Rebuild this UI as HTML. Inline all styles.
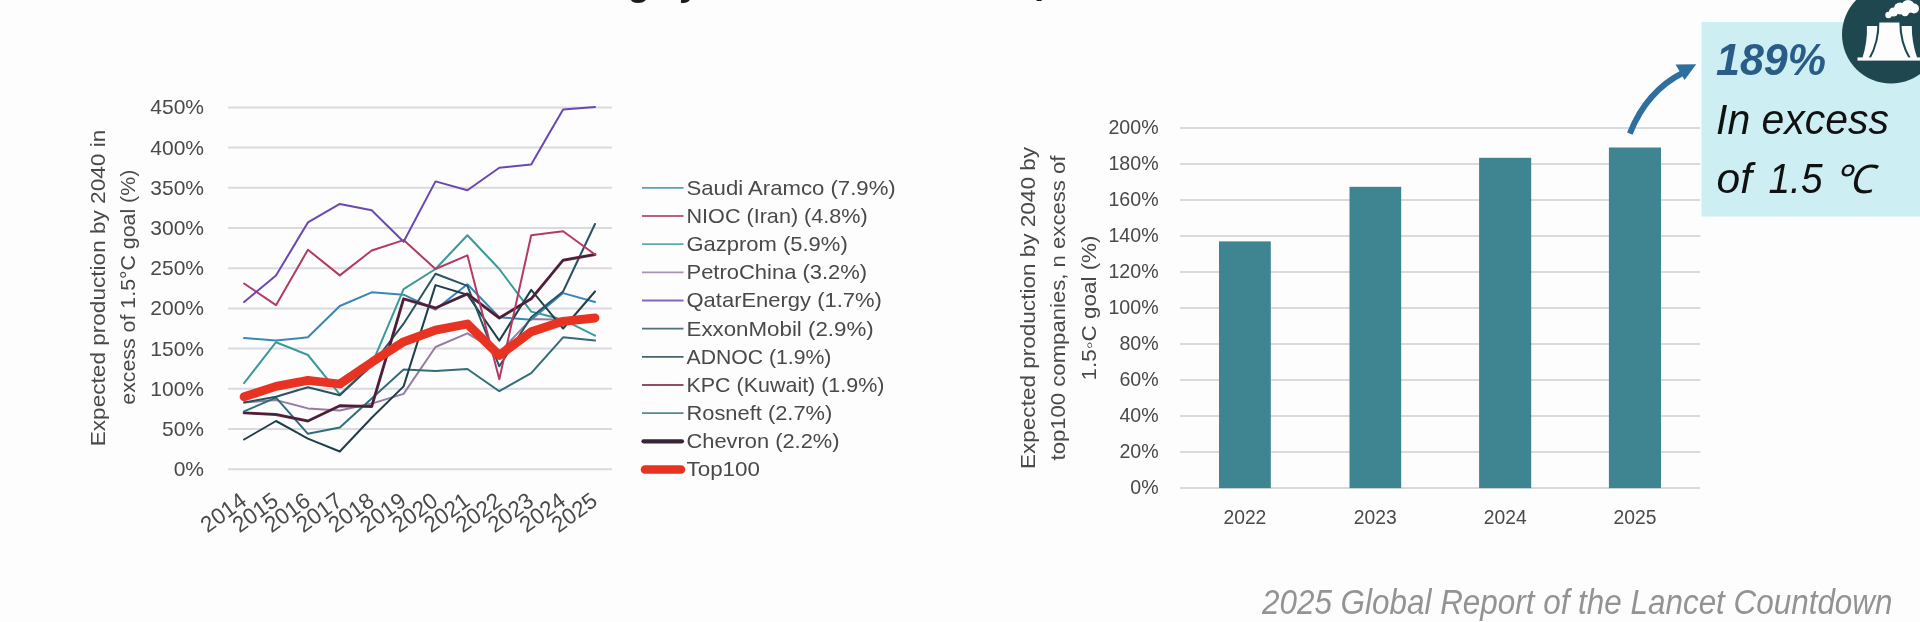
<!DOCTYPE html>
<html lang="en"><head><meta charset="utf-8"><title>Lancet Countdown 2025 – fossil fuel production</title>
<style>html,body{margin:0;padding:0;background:#fdfdfd;overflow:hidden}svg{display:block}.soft{filter:blur(0.45px)}text{font-family:"Liberation Sans", sans-serif}</style>
</head><body>
<svg width="1920" height="622" viewBox="0 0 1920 622">
<rect width="1920" height="622" fill="#fdfdfd"/>
<g class="soft">
<text y="-5.1" font-size="37" font-weight="bold" fill="#1c1c1c"><tspan x="650" text-anchor="end">Fossil fuel extraction is increasing</tspan><tspan x="656.5" text-anchor="start">by far more at</tspan><tspan x="999" dy="-2.2" text-anchor="start">top 100 firms</tspan></text>
<g id="left-chart">
<line x1="228" x2="612" y1="469.2" y2="469.2" stroke="#dbd9df" stroke-width="2"/>
<line x1="228" x2="612" y1="429.0" y2="429.0" stroke="#dbd9df" stroke-width="2"/>
<line x1="228" x2="612" y1="388.8" y2="388.8" stroke="#dbd9df" stroke-width="2"/>
<line x1="228" x2="612" y1="348.6" y2="348.6" stroke="#dbd9df" stroke-width="2"/>
<line x1="228" x2="612" y1="308.4" y2="308.4" stroke="#dbd9df" stroke-width="2"/>
<line x1="228" x2="612" y1="268.2" y2="268.2" stroke="#dbd9df" stroke-width="2"/>
<line x1="228" x2="612" y1="228.0" y2="228.0" stroke="#dbd9df" stroke-width="2"/>
<line x1="228" x2="612" y1="187.8" y2="187.8" stroke="#dbd9df" stroke-width="2"/>
<line x1="228" x2="612" y1="147.6" y2="147.6" stroke="#dbd9df" stroke-width="2"/>
<line x1="228" x2="612" y1="107.4" y2="107.4" stroke="#dbd9df" stroke-width="2"/>
<text x="204" y="476.1" font-size="21" text-anchor="end" fill="#494949">0%</text>
<text x="204" y="435.9" font-size="21" text-anchor="end" fill="#494949">50%</text>
<text x="204" y="395.7" font-size="21" text-anchor="end" fill="#494949">100%</text>
<text x="204" y="355.5" font-size="21" text-anchor="end" fill="#494949">150%</text>
<text x="204" y="315.3" font-size="21" text-anchor="end" fill="#494949">200%</text>
<text x="204" y="275.1" font-size="21" text-anchor="end" fill="#494949">250%</text>
<text x="204" y="234.9" font-size="21" text-anchor="end" fill="#494949">300%</text>
<text x="204" y="194.7" font-size="21" text-anchor="end" fill="#494949">350%</text>
<text x="204" y="154.5" font-size="21" text-anchor="end" fill="#494949">400%</text>
<text x="204" y="114.3" font-size="21" text-anchor="end" fill="#494949">450%</text>
<polyline points="244.1,402.5 276.0,400.1 307.9,408.4 339.8,410.5 371.7,403.6 403.6,393.9 435.5,347.0 467.4,333.3 499.3,352.6 531.2,318.9 563.1,319.7 595.0,318.0" fill="none" stroke="#977ca2" stroke-width="2.0" stroke-linejoin="round" stroke-linecap="round"/>
<polyline points="244.1,338.1 276.0,340.6 307.9,337.3 339.8,306.0 371.7,292.3 403.6,294.7 435.5,309.6 467.4,284.3 499.3,317.2 531.2,319.7 563.1,293.1 595.0,302.0" fill="none" stroke="#3a86b4" stroke-width="2.0" stroke-linejoin="round" stroke-linecap="round"/>
<polyline points="244.1,383.2 276.0,342.2 307.9,355.0 339.8,394.4 371.7,364.7 403.6,289.1 435.5,269.0 467.4,235.2 499.3,269.0 531.2,311.6 563.1,319.7 595.0,335.7" fill="none" stroke="#3a9a97" stroke-width="2.0" stroke-linejoin="round" stroke-linecap="round"/>
<polyline points="244.1,411.3 276.0,397.6 307.9,433.8 339.8,427.4 371.7,398.4 403.6,369.5 435.5,371.1 467.4,369.0 499.3,391.2 531.2,373.1 563.1,337.3 595.0,340.6" fill="none" stroke="#2f6e7a" stroke-width="2.0" stroke-linejoin="round" stroke-linecap="round"/>
<polyline points="244.1,439.5 276.0,421.0 307.9,438.6 339.8,451.5 371.7,417.7 403.6,386.4 435.5,285.1 467.4,294.7 499.3,340.6 531.2,289.9 563.1,328.5 595.0,291.5" fill="none" stroke="#1f3f4a" stroke-width="2.0" stroke-linejoin="round" stroke-linecap="round"/>
<polyline points="244.1,402.5 276.0,396.8 307.9,387.2 339.8,395.2 371.7,365.5 403.6,323.7 435.5,273.8 467.4,285.9 499.3,366.3 531.2,317.2 563.1,291.5 595.0,224.0" fill="none" stroke="#27545f" stroke-width="2.0" stroke-linejoin="round" stroke-linecap="round"/>
<polyline points="244.1,412.9 276.0,414.5 307.9,421.0 339.8,405.7 371.7,406.5 403.6,298.8 435.5,308.0 467.4,293.9 499.3,318.0 531.2,298.8 563.1,260.2 595.0,254.5" fill="none" stroke="#7a2748" stroke-width="2.9" stroke-linejoin="round" stroke-linecap="round"/>
<polyline points="244.1,412.9 276.0,414.5 307.9,421.0 339.8,405.7 371.7,406.5 403.6,298.8 435.5,308.0 467.4,293.9 499.3,318.0 531.2,298.8 563.1,260.2 595.0,254.5" fill="none" stroke="#3a2438" stroke-width="1.7" stroke-linejoin="round" stroke-linecap="round"/>
<polyline points="244.1,283.5 276.0,305.2 307.9,249.7 339.8,275.4 371.7,250.5 403.6,240.1 435.5,269.0 467.4,255.3 499.3,379.2 531.2,235.2 563.1,231.2 595.0,254.5" fill="none" stroke="#b23a63" stroke-width="2.0" stroke-linejoin="round" stroke-linecap="round"/>
<polyline points="244.1,302.0 276.0,275.4 307.9,222.4 339.8,203.9 371.7,210.3 403.6,241.7 435.5,181.4 467.4,190.2 499.3,167.7 531.2,164.5 563.1,109.4 595.0,107.0" fill="none" stroke="#6a48b0" stroke-width="2.0" stroke-linejoin="round" stroke-linecap="round"/>
<polyline points="244.1,396.8 276.0,386.4 307.9,380.4 339.8,384.0 371.7,362.3 403.6,341.8 435.5,330.1 467.4,324.0 499.3,355.4 531.2,331.7 563.1,321.3 595.0,318.0" fill="none" stroke="#e83323" stroke-width="8.8" stroke-linejoin="round" stroke-linecap="round"/>
<text transform="translate(248.1 504.0) rotate(-36)" font-size="22.5" text-anchor="end" fill="#494949">2014</text>
<text transform="translate(280.0 504.0) rotate(-36)" font-size="22.5" text-anchor="end" fill="#494949">2015</text>
<text transform="translate(311.9 504.0) rotate(-36)" font-size="22.5" text-anchor="end" fill="#494949">2016</text>
<text transform="translate(343.8 504.0) rotate(-36)" font-size="22.5" text-anchor="end" fill="#494949">2017</text>
<text transform="translate(375.7 504.0) rotate(-36)" font-size="22.5" text-anchor="end" fill="#494949">2018</text>
<text transform="translate(407.6 504.0) rotate(-36)" font-size="22.5" text-anchor="end" fill="#494949">2019</text>
<text transform="translate(439.5 504.0) rotate(-36)" font-size="22.5" text-anchor="end" fill="#494949">2020</text>
<text transform="translate(471.4 504.0) rotate(-36)" font-size="22.5" text-anchor="end" fill="#494949">2021</text>
<text transform="translate(503.3 504.0) rotate(-36)" font-size="22.5" text-anchor="end" fill="#494949">2022</text>
<text transform="translate(535.2 504.0) rotate(-36)" font-size="22.5" text-anchor="end" fill="#494949">2023</text>
<text transform="translate(567.1 504.0) rotate(-36)" font-size="22.5" text-anchor="end" fill="#494949">2024</text>
<text transform="translate(599.0 504.0) rotate(-36)" font-size="22.5" text-anchor="end" fill="#494949">2025</text>
<text transform="translate(105 288) rotate(-90)" font-size="21" text-anchor="middle" fill="#494949" textLength="316.5" lengthAdjust="spacingAndGlyphs">Expected production by 2040 in</text>
<text transform="translate(135 287.2) rotate(-90)" font-size="21" text-anchor="middle" fill="#494949" textLength="235" lengthAdjust="spacingAndGlyphs">excess of 1.5°C goal (%)</text>
<line x1="642.0" x2="683.5" y1="187.8" y2="187.8" stroke="#3a86b4" stroke-width="1.8" stroke-linecap="butt" stroke-opacity="0.82"/>
<text x="686.5" y="194.7" font-size="21" fill="#494949" textLength="209.2" lengthAdjust="spacingAndGlyphs">Saudi Aramco (7.9%)</text>
<line x1="642.0" x2="683.5" y1="216.0" y2="216.0" stroke="#b23a63" stroke-width="1.8" stroke-linecap="butt" stroke-opacity="0.82"/>
<text x="686.5" y="222.9" font-size="21" fill="#494949" textLength="181.2" lengthAdjust="spacingAndGlyphs">NIOC (Iran) (4.8%)</text>
<line x1="642.0" x2="683.5" y1="244.1" y2="244.1" stroke="#3a9a97" stroke-width="1.8" stroke-linecap="butt" stroke-opacity="0.82"/>
<text x="686.5" y="251.0" font-size="21" fill="#494949" textLength="161.2" lengthAdjust="spacingAndGlyphs">Gazprom (5.9%)</text>
<line x1="642.0" x2="683.5" y1="272.3" y2="272.3" stroke="#977ca2" stroke-width="1.8" stroke-linecap="butt" stroke-opacity="0.82"/>
<text x="686.5" y="279.2" font-size="21" fill="#494949" textLength="180.6" lengthAdjust="spacingAndGlyphs">PetroChina (3.2%)</text>
<line x1="642.0" x2="683.5" y1="300.5" y2="300.5" stroke="#6a48b0" stroke-width="1.8" stroke-linecap="butt" stroke-opacity="0.82"/>
<text x="686.5" y="307.4" font-size="21" fill="#494949" textLength="195.4" lengthAdjust="spacingAndGlyphs">QatarEnergy (1.7%)</text>
<line x1="642.0" x2="683.5" y1="328.6" y2="328.6" stroke="#27545f" stroke-width="1.8" stroke-linecap="butt" stroke-opacity="0.82"/>
<text x="686.5" y="335.6" font-size="21" fill="#494949" textLength="187.2" lengthAdjust="spacingAndGlyphs">ExxonMobil (2.9%)</text>
<line x1="642.0" x2="683.5" y1="356.8" y2="356.8" stroke="#1f3f4a" stroke-width="1.8" stroke-linecap="butt" stroke-opacity="0.82"/>
<text x="686.5" y="363.7" font-size="21" fill="#494949" textLength="144.9" lengthAdjust="spacingAndGlyphs">ADNOC (1.9%)</text>
<line x1="642.0" x2="683.5" y1="385.0" y2="385.0" stroke="#7a2748" stroke-width="1.8" stroke-linecap="butt" stroke-opacity="0.82"/>
<text x="686.5" y="391.9" font-size="21" fill="#494949" textLength="197.9" lengthAdjust="spacingAndGlyphs">KPC (Kuwait) (1.9%)</text>
<line x1="642.0" x2="683.5" y1="413.2" y2="413.2" stroke="#2f6e7a" stroke-width="1.8" stroke-linecap="butt" stroke-opacity="0.82"/>
<text x="686.5" y="420.1" font-size="21" fill="#494949" textLength="145.8" lengthAdjust="spacingAndGlyphs">Rosneft (2.7%)</text>
<line x1="643.5" x2="682.0" y1="441.3" y2="441.3" stroke="#3a2438" stroke-width="4.2" stroke-linecap="round" stroke-opacity="1.00"/>
<text x="686.5" y="448.2" font-size="21" fill="#494949" textLength="153.0" lengthAdjust="spacingAndGlyphs">Chevron (2.2%)</text>
<line x1="645.0" x2="681.0" y1="469.5" y2="469.5" stroke="#e83323" stroke-width="8.5" stroke-linecap="round" stroke-opacity="1.00"/>
<text x="686.5" y="476.4" font-size="21" fill="#494949" textLength="73.5" lengthAdjust="spacingAndGlyphs">Top100</text>
</g>
<g id="right-chart">
<line x1="1180" x2="1700.3" y1="488.1" y2="488.1" stroke="#dadada" stroke-width="2"/>
<text x="1158.6" y="494.2" font-size="19.6" text-anchor="end" fill="#494949">0%</text>
<line x1="1180" x2="1700.3" y1="452.1" y2="452.1" stroke="#dadada" stroke-width="2"/>
<text x="1158.6" y="458.2" font-size="19.6" text-anchor="end" fill="#494949">20%</text>
<line x1="1180" x2="1700.3" y1="416.1" y2="416.1" stroke="#dadada" stroke-width="2"/>
<text x="1158.6" y="422.2" font-size="19.6" text-anchor="end" fill="#494949">40%</text>
<line x1="1180" x2="1700.3" y1="380.0" y2="380.0" stroke="#dadada" stroke-width="2"/>
<text x="1158.6" y="386.1" font-size="19.6" text-anchor="end" fill="#494949">60%</text>
<line x1="1180" x2="1700.3" y1="344.0" y2="344.0" stroke="#dadada" stroke-width="2"/>
<text x="1158.6" y="350.1" font-size="19.6" text-anchor="end" fill="#494949">80%</text>
<line x1="1180" x2="1700.3" y1="308.0" y2="308.0" stroke="#dadada" stroke-width="2"/>
<text x="1158.6" y="314.1" font-size="19.6" text-anchor="end" fill="#494949">100%</text>
<line x1="1180" x2="1700.3" y1="272.0" y2="272.0" stroke="#dadada" stroke-width="2"/>
<text x="1158.6" y="278.1" font-size="19.6" text-anchor="end" fill="#494949">120%</text>
<line x1="1180" x2="1700.3" y1="236.0" y2="236.0" stroke="#dadada" stroke-width="2"/>
<text x="1158.6" y="242.1" font-size="19.6" text-anchor="end" fill="#494949">140%</text>
<line x1="1180" x2="1700.3" y1="199.9" y2="199.9" stroke="#dadada" stroke-width="2"/>
<text x="1158.6" y="206.0" font-size="19.6" text-anchor="end" fill="#494949">160%</text>
<line x1="1180" x2="1700.3" y1="163.9" y2="163.9" stroke="#dadada" stroke-width="2"/>
<text x="1158.6" y="170.0" font-size="19.6" text-anchor="end" fill="#494949">180%</text>
<line x1="1180" x2="1700.3" y1="127.9" y2="127.9" stroke="#dadada" stroke-width="2"/>
<text x="1158.6" y="134.0" font-size="19.6" text-anchor="end" fill="#494949">200%</text>
<rect x="1219.0" y="241.4" width="51.8" height="246.7" fill="#3f8591"/>
<text x="1244.9" y="523.6" font-size="19.3" text-anchor="middle" fill="#494949">2022</text>
<rect x="1349.5" y="186.8" width="51.7" height="301.3" fill="#3f8591"/>
<text x="1375.3" y="523.6" font-size="19.3" text-anchor="middle" fill="#494949">2023</text>
<rect x="1479.1" y="157.8" width="52.1" height="330.3" fill="#3f8591"/>
<text x="1505.2" y="523.6" font-size="19.3" text-anchor="middle" fill="#494949">2024</text>
<rect x="1608.9" y="147.5" width="52.1" height="340.6" fill="#3f8591"/>
<text x="1635.0" y="523.6" font-size="19.3" text-anchor="middle" fill="#494949">2025</text>
<text transform="translate(1035 308) rotate(-90)" font-size="19.5" text-anchor="middle" fill="#494949" textLength="322" lengthAdjust="spacingAndGlyphs">Expected production by 2040 by</text>
<text transform="translate(1065 308) rotate(-90)" font-size="19.5" text-anchor="middle" fill="#494949" textLength="305" lengthAdjust="spacingAndGlyphs">top100 companies, n excess of</text>
<text transform="translate(1096 308) rotate(-90)" font-size="19.5" text-anchor="middle" fill="#494949" textLength="145" lengthAdjust="spacingAndGlyphs">1.5◦C goal  (%)</text>
</g>
<g id="callout">
<rect x="1701.5" y="22" width="219" height="194.5" fill="#cdeef2"/>
<path d="M1629.8 133.6 Q1646.5 91 1683.5 72.5" fill="none" stroke="#2f6f9f" stroke-width="5.9" stroke-linecap="butt"/>
<path d="M1696.2 64.2 L1675.6 64.6 L1684.6 80 Z" fill="#2f6f9f"/>
<text x="1716" y="75" font-size="44" font-weight="bold" font-style="italic" fill="#2a5c88" textLength="110" lengthAdjust="spacingAndGlyphs">189%</text>
<text x="1716" y="134" font-size="42.5" font-style="italic" fill="#111" textLength="173" lengthAdjust="spacingAndGlyphs">In excess</text>
<text y="192.5" font-size="42.5" font-style="italic" fill="#111"><tspan x="1716.5">of</tspan><tspan x="1768.5" textLength="54" lengthAdjust="spacingAndGlyphs">1.5</tspan><tspan x="1833.5" font-size="39.5">℃</tspan></text>
<circle cx="1891" cy="34.5" r="49" fill="#1f474f"/>
<g fill="#fdfdfd">
<path d="M1866.9 26 L1878.5 26 L1876 58 L1862.4 58 Q1867.6 42 1866.9 26 Z"/>
<path d="M1901 26 L1911.8 26 Q1911.6 42 1917.2 58 L1904 58 Z"/>
<path d="M1878.4 21.4 L1900.3 21.4 Q1900 42 1910.4 59.6 L1869 59.6 Q1879 42 1878.4 21.4 Z" stroke="#1f474f" stroke-width="2"/>
<rect x="1857.5" y="57.4" width="63" height="3.2"/>
<circle cx="1888.5" cy="15" r="3.2"/><circle cx="1893.5" cy="12" r="4.6"/><circle cx="1900" cy="8.5" r="6"/><circle cx="1908" cy="6.5" r="6.6"/><circle cx="1914" cy="8.5" r="5"/><circle cx="1905" cy="12" r="4.2"/>
</g>
</g>
<text x="1262" y="614.3" font-size="34.5" font-style="italic" fill="#939393" textLength="630.5" lengthAdjust="spacingAndGlyphs">2025 Global Report of the Lancet Countdown</text>
</g>
</svg></body></html>
